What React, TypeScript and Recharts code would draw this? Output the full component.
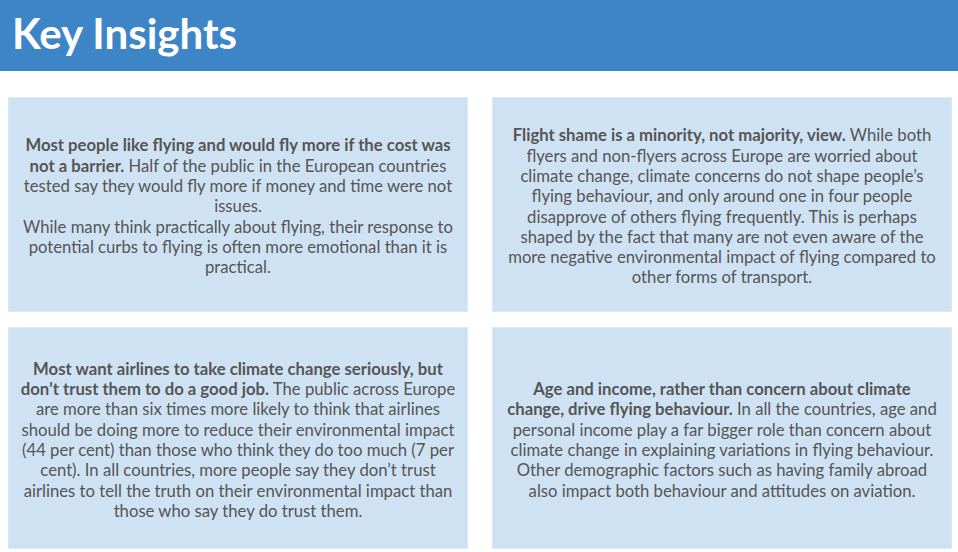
import { Surface } from 'recharts';

const title = 'Key Insights';

const headlines = [
  'Most people like flying and would fly more if the cost was not a barrier.',
  'Flight shame is a minority, not majority, view.',
  'Most want airlines to take climate change seriously, but don\u2019t trust them to do a good job.',
  'Age and income, rather than concern about climate change, drive flying behaviour.',
];

const bodies = [
  [
    'Half of the public in the European countries tested say they would fly more if money and time were not issues.',
    'While many think practically about flying, their response to potential curbs to flying is often more emotional than it is practical.',
  ],
  [
    'While both flyers and non-flyers across Europe are worried about climate change, climate concerns do not shape people\u2019s flying behaviour, and only around one in four people disapprove of others flying frequently. This is perhaps shaped by the fact that many are not even aware of the more negative environmental impact of flying compared to other forms of transport.',
  ],
  [
    'The public across Europe are more than six times more likely to think that airlines should be doing more to reduce their environmental impact (44 per cent) than those who think they do too much (7 per cent). In all countries, more people say they don\u2019t trust airlines to tell the truth on their environmental impact than those who say they do trust them.',
  ],
  [
    'In all the countries, age and personal income play a far bigger role than concern about climate change in explaining variations in flying behaviour. Other demographic factors such as having family abroad also impact both behaviour and attitudes on aviation.',
  ],
];

const W = 958;
const H = 552;
const HEADER_H = 71;
const COL_X = [8, 492];
const ROW_Y = [97, 327];
const PANEL_W = 460;
const PANEL_H = [215, 222];
const PAD = [15, 15, 9, 15];

export default function App() {
  const panels = headlines.map((h, i) => ({
    x: COL_X[i % 2],
    y: ROW_Y[Math.floor(i / 2)],
    h: PANEL_H[Math.floor(i / 2)],
    pad: PAD[i],
    headline: h,
    body: bodies[i],
  }));

  return (
    <div style={{ position: 'fixed', left: 0, top: 0, width: W, height: H, overflow: 'hidden', background: '#fff', fontFamily: 'Lato, sans-serif' }}>
      <div style={{ position: 'absolute', left: 0, top: 0 }}>
        <Surface width={W} height={H}>
          <rect x={0} y={0} width={W} height={HEADER_H} fill="#3d85c6" />
          {panels.map((p, i) => (
            <rect key={i} x={p.x + 0.5} y={p.y + 0.5} width={PANEL_W - 1} height={p.h - 1} fill="#cfe2f3" stroke="#dbe8f5" strokeWidth={1} />
          ))}
        </Surface>
      </div>
      <div style={{ position: 'absolute', left: 12, top: 7, color: '#fff', fontWeight: 700, fontSize: 42, lineHeight: '52px', whiteSpace: 'nowrap' }}>
        {title}
      </div>
      {panels.map((p, i) => (
        <div
          key={i}
          style={{
            position: 'absolute',
            left: p.x,
            top: p.y + 2,
            width: PANEL_W,
            height: p.h,
            display: 'flex',
            flexDirection: 'column',
            justifyContent: 'center',
            boxSizing: 'border-box',
            padding: `0 ${p.pad}px`,
            textAlign: 'center',
            color: '#555',
            fontSize: 16.7,
            lineHeight: '20.3px',
          }}
        >
          <div>
            <b>{p.headline}</b> {p.body[0]}
          </div>
          {p.body.slice(1).map((t, j) => (
            <div key={j}>{t}</div>
          ))}
        </div>
      ))}
    </div>
  );
}
